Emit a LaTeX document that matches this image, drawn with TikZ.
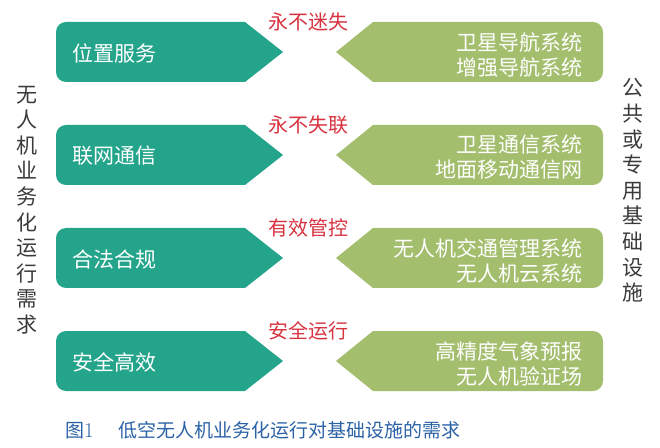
\documentclass[tikz,border=0pt]{standalone}
\usepackage{fontspec}
\newfontfamily\cjk{Noto Sans CJK SC}
\usetikzlibrary{calc}
\definecolor{needteal}{HTML}{24A58B}
\definecolor{infragreen}{HTML}{A3BE6D}
\definecolor{goalred}{HTML}{D7323F}
\definecolor{capblue}{HTML}{2B62A6}
\definecolor{sidegray}{HTML}{3A3A3A}
\tikzset{
  needtext/.style={anchor=west,inner sep=0pt,text=white,font=\cjk\fontsize{21}{25}\selectfont},
  infratext/.style={anchor=east,inner sep=0pt,align=right,text=white,font=\cjk\fontsize{21}{25}\selectfont},
  goaltext/.style={inner sep=0pt,text=goalred,font=\cjk\fontsize{20}{24}\selectfont},
  sidetext/.style={inner sep=0pt,align=center,text=sidegray,font=\cjk\fontsize{21}{25.6}\selectfont}
}
% #1 name, #2 middle height, #3 need, #4 goal, #5 infrastructure
\newcommand*{\needrow}[5]
  {\fill[needteal] (66,#2+30) -- (245,#2+30) -- (283,#2) -- (245,#2-30) -- (66,#2-30)
     arc[start angle=270,end angle=180,radius=10] -- (56,#2+20)
     arc[start angle=180,end angle=90,radius=10] -- cycle;
   \fill[infragreen] (336,#2) -- (373,#2+30) -- (593,#2+30)
     arc[start angle=90,end angle=0,radius=10] -- (603,#2-20)
     arc[start angle=0,end angle=-90,radius=10] -- (373,#2-30) -- cycle;
   \node[needtext] (#1-need) at (72,#2-1) {#3};
   \node[goaltext] (#1-goal) at (308,#2+30) {#4};
   \node[infratext] (#1-infra) at (583,#2-2.5) {#5}}

\begin{document}
\begin{tikzpicture}[x=1pt,y=1pt]
\useasboundingbox (0,0) rectangle (660,447);
\needrow{pos}{395}{位置服务}{永不迷失}{卫星导航系统\\增强导航系统};
\needrow{net}{292}{联网通信}{永不失联}{卫星通信系统\\地面移动通信网};
\needrow{law}{189}{合法合规}{有效管控}{无人机交通管理系统\\无人机云系统};
\needrow{safe}{86}{安全高效}{安全运行}{高精度气象预报\\无人机验证场};
\node[sidetext] (demand) at (27,237) {无\\人\\机\\业\\务\\化\\运\\行\\需\\求};
\node[sidetext] (infra) at (633,256.5) {公\\共\\或\\专\\用\\基\\础\\设\\施};
\node[anchor=west,inner sep=0pt,text=capblue,font=\cjk\fontsize{19}{21}\selectfont]
  (caption) at (65,17) {图{\rmfamily\fontsize{21}{21}\selectfont 1}\hspace{25pt}低空无人机业务化运行对基础设施的需求};
\end{tikzpicture}
\end{document}
